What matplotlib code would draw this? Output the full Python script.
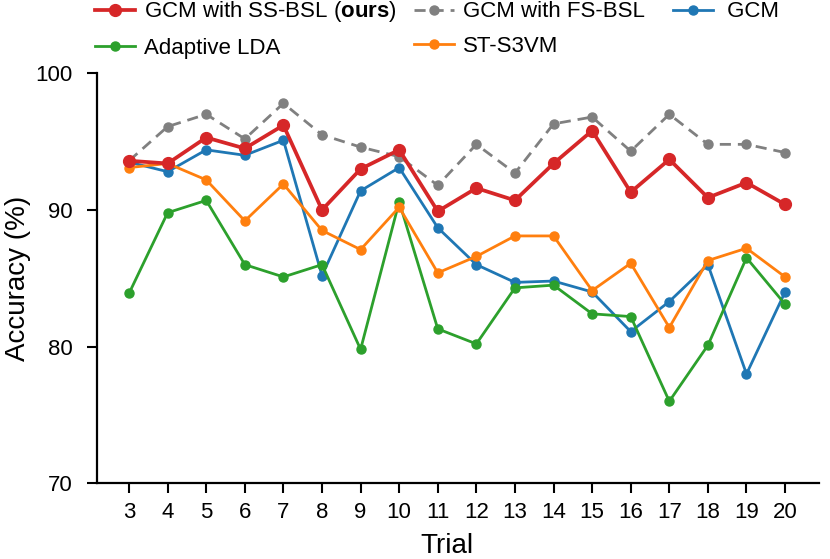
import matplotlib
matplotlib.use('Agg')
import matplotlib.pyplot as plt

plt.rcParams['font.family'] = ['Liberation Sans', 'DejaVu Sans']
plt.rcParams['mathtext.fontset'] = 'custom'
plt.rcParams['mathtext.rm'] = 'Liberation Sans'
plt.rcParams['mathtext.bf'] = 'Liberation Sans:bold'

trials = list(range(3, 21))

# accuracy (%) per trial
ss_bsl = [93.6, 93.4, 95.3, 94.5, 96.2, 90.0, 93.0, 94.4, 89.9, 91.6,
          90.7, 93.4, 95.8, 91.3, 93.7, 90.9, 92.0, 90.4]
fs_bsl = [93.6, 96.1, 97.0, 95.2, 97.8, 95.5, 94.6, 93.9, 91.8, 94.8,
          92.7, 96.3, 96.8, 94.3, 97.0, 94.8, 94.8, 94.2]
gcm = [93.5, 92.8, 94.4, 94.0, 95.1, 85.2, 91.4, 93.1, 88.7, 86.0,
       84.7, 84.8, 84.0, 81.1, 83.3, 86.0, 78.0, 84.0]
ada_lda = [83.9, 89.8, 90.7, 86.0, 85.1, 86.0, 79.8, 90.6, 81.3, 80.2,
           84.3, 84.5, 82.4, 82.2, 76.0, 80.1, 86.5, 83.1]
st_s3vm = [93.1, 93.4, 92.2, 89.2, 91.9, 88.5, 87.1, 90.2, 85.4, 86.6,
           88.1, 88.1, 84.1, 86.1, 81.4, 86.3, 87.2, 85.1]

fig = plt.figure(figsize=(8.3, 5.59), dpi=100)
ax = fig.add_axes([0.1169, 0.1354, 0.8699, 0.7335])

small = dict(lw=2, ms=6.5, marker='o')
l_red, = ax.plot(trials, ss_bsl, color='#d62728', lw=2.7, ms=8.5, marker='o',
                 label=r'GCM with SS-BSL ($\mathbf{ours}$)', zorder=5)
l_gray, = ax.plot(trials, fs_bsl, color='#808080', ls='--', dashes=(4, 2.5),
                  label='GCM with FS-BSL  ', **small)
l_blue, = ax.plot(trials, gcm, color='#1f77b4', label=' GCM', **small)
l_green, = ax.plot(trials, ada_lda, color='#2ca02c', label='Adaptive LDA', **small)
l_orange, = ax.plot(trials, st_s3vm, color='#ff7f0e', label='ST-S3VM', **small)

ax.set_xlim(2.17, 20.88)
ax.set_ylim(70, 100)
ax.set_xticks(trials)
ax.set_yticks([70, 80, 90, 100])
ax.tick_params(labelsize=16, width=1.5, length=7.5, direction='out')
ax.tick_params(axis='x', pad=6)
ax.tick_params(axis='y', pad=10)
for s in ['top', 'right']:
    ax.spines[s].set_visible(False)
for s in ['left', 'bottom']:
    ax.spines[s].set_linewidth(1.6)

ax.set_xlabel('Trial', fontsize=20)
ax.xaxis.set_label_coords(0.485, -0.122)
ax.set_ylabel('Accuracy (%)', fontsize=20, labelpad=3)

handles = [l_red, l_green, l_gray, l_orange, l_blue]
ax.legend(handles=handles, labels=[h.get_label() for h in handles],
          ncol=3, loc='upper left', bbox_to_anchor=(0.115, 1.001),
          bbox_transform=fig.transFigure,
          frameon=False, fontsize=16, handlelength=1.8, handletextpad=0.4,
          columnspacing=0.75, labelspacing=0.6, borderpad=0, borderaxespad=0)

fig.savefig('out.png', dpi=100)
